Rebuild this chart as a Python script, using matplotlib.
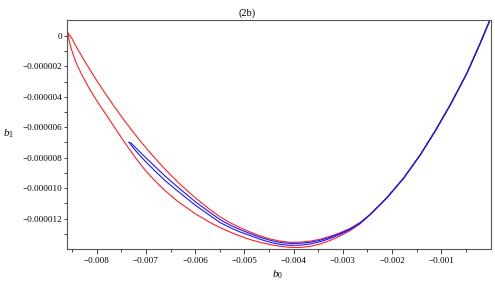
import matplotlib
matplotlib.use("Agg")
import matplotlib.pyplot as plt
import numpy as np

plt.rcParams['font.family'] = ['Liberation Serif', 'DejaVu Serif']
plt.rcParams['mathtext.fontset'] = 'custom'
plt.rcParams['mathtext.rm'] = 'Liberation Serif'
plt.rcParams['mathtext.it'] = 'Liberation Serif:italic'

# values, b0 in units of 1e-3, b1 in units of 1e-6
# shared right part where all four branches run together
b0_common = [-2.445, -2.106, -1.768, -1.429, -1.124, -0.819, -0.480, -0.209, -0.020]
b1_common = [-11.736, -10.638, -9.356, -7.824, -6.246, -4.537, -2.452, -0.480, 0.986]

# red loop, lower (outer) branch
b0_red_lo = [-8.583, -8.563, -8.522, -8.461, -8.400, -8.278, -8.157, -7.994, -7.831, -7.628,
             -7.425, -7.222, -7.018, -6.815, -6.612, -6.368, -6.002, -5.697, -5.494, -5.291,
             -5.087, -4.884, -4.681, -4.478, -4.274, -4.071, -3.868, -3.665, -3.461, -3.258,
             -3.055, -2.852, -2.648]
b1_red_lo = [0.18, -0.263, -0.789, -1.381, -1.907, -2.696, -3.419, -4.274, -5.063, -6.049,
             -7.035, -7.955, -8.810, -9.533, -10.158, -10.835, -11.677, -12.262, -12.590, -12.886,
             -13.149, -13.379, -13.563, -13.708, -13.820, -13.893, -13.899, -13.827, -13.675, -13.439,
             -13.143, -12.794, -12.341]

# red loop, upper (inner) branch
b0_red_up = [-8.583, -8.543, -8.502, -8.441, -8.339, -8.197, -8.035, -7.852, -7.669, -7.486,
             -7.323, -7.079, -6.896, -6.713, -6.510, -6.307, -6.002, -5.697, -5.494, -5.291,
             -5.087, -4.884, -4.681, -4.478, -4.274, -4.071, -3.868, -3.665, -3.461, -3.258,
             -3.055, -2.852, -2.648]
b1_red_up = [0.18, 0.033, -0.164, -0.559, -1.131, -1.907, -2.748, -3.656, -4.517, -5.345,
             -6.049, -7.041, -7.738, -8.402, -9.093, -9.737, -10.625, -11.414, -11.887, -12.268,
             -12.597, -12.886, -13.136, -13.340, -13.485, -13.563, -13.550, -13.485, -13.360, -13.169,
             -12.932, -12.649, -12.262]

# blue loop, upper branch
b0_blue_up = [-7.343, -7.303, -7.222, -7.018, -6.815, -6.612, -6.368, -6.002, -5.697, -5.494,
              -5.291, -5.087, -4.884, -4.681, -4.478, -4.274, -4.071, -3.868, -3.665, -3.461,
              -3.258, -3.055, -2.852, -2.648]
b1_blue_up = [-6.989, -7.035, -7.298, -7.955, -8.580, -9.205, -9.895, -10.881, -11.604, -12.065,
              -12.426, -12.722, -12.985, -13.229, -13.426, -13.570, -13.636, -13.623, -13.557, -13.425,
              -13.228, -12.978, -12.682, -12.281]

# blue loop, lower branch
b0_blue_lo = [-7.343, -7.303, -7.222, -7.018, -6.815, -6.612, -6.368, -6.002, -5.697, -5.494,
              -5.291, -5.087, -4.884, -4.681, -4.478, -4.274, -4.071, -3.868, -3.665, -3.461,
              -3.258, -3.055, -2.852, -2.648]
b1_blue_lo = [-6.989, -7.166, -7.495, -8.218, -8.876, -9.501, -10.158, -11.111, -11.802, -12.262,
              -12.590, -12.880, -13.117, -13.360, -13.557, -13.695, -13.761, -13.748, -13.669, -13.524,
              -13.307, -13.038, -12.722, -12.301]

x_ticks = [-0.008, -0.007, -0.006, -0.005, -0.004, -0.003, -0.002, -0.001]
x_labels = ["\u22120.008", "\u22120.007", "\u22120.006", "\u22120.005",
            "\u22120.004", "\u22120.003", "\u22120.002", "\u22120.001"]
y_ticks = [0, -2e-6, -4e-6, -6e-6, -8e-6, -10e-6, -12e-6]
y_labels = ["0", "\u22120.000002", "\u22120.000004", "\u22120.000006",
            "\u22120.000008", "\u22120.000010", "\u22120.000012"]


def branch(b0, b1):
    x = np.array(b0 + b0_common) * 1e-3
    y = np.array(b1 + b1_common) * 1e-6
    return x, y


fig = plt.figure(figsize=(4.95, 2.87), dpi=100)
ax = fig.add_axes([0.1347, 0.1324, 0.8572, 0.7979])

for b0, b1 in [(b0_red_lo, b1_red_lo), (b0_red_up, b1_red_up)]:
    x, y = branch(b0, b1)
    ax.plot(x, y, color='#ff2020', lw=0.8)
for b0, b1 in [(b0_blue_lo, b1_blue_lo), (b0_blue_up, b1_blue_up)]:
    x, y = branch(b0, b1)
    ax.plot(x, y, color='#1a1aff', lw=0.8)

ax.set_xlim(-0.00861, 0.00001)
ax.set_ylim(-1.4e-5, 1.05e-6)

ax.set_xticks(x_ticks)
ax.set_xticklabels(x_labels)
ax.set_xticks(np.arange(-0.0085, 0.0, 0.001), minor=True)
ax.set_yticks(y_ticks)
ax.set_yticklabels(y_labels)
ax.set_yticks(np.arange(-13e-6, 0, 2e-6), minor=True)

ax.tick_params(which='both', direction='out', labelsize=6.6, color='#444444')
ax.tick_params(axis='x', which='major', length=3.5, width=0.7, pad=2)
ax.tick_params(axis='x', which='minor', length=2.5, width=0.7)
ax.tick_params(axis='y', which='major', length=2.5, width=0.7, pad=1)
ax.tick_params(axis='y', which='minor', length=2, width=0.7)
for s in ax.spines.values():
    s.set_color('#555555')
    s.set_linewidth(0.8)

fig.text(0.5, 1 - 13 / 287, "(2b)", ha='center', va='center', fontsize=7.5)
fig.text(9 / 495, 1 - 134 / 287, r'$b_1$', ha='center', va='center', fontsize=8)
fig.text(278 / 495, 1 - 275 / 287, r'$b_0$', ha='center', va='center', fontsize=8)

fig.savefig("out.png", dpi=100)
